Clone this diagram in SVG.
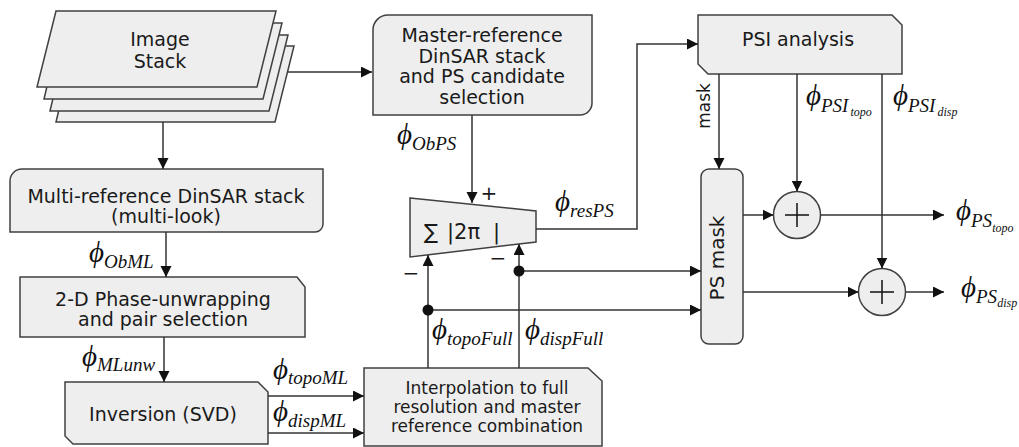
<svg xmlns="http://www.w3.org/2000/svg" width="1019" height="447" viewBox="0 0 1019 447">
<style>
.box{fill:#eeeeee;stroke:#404040;stroke-width:1.5}
.ln{fill:none;stroke:#333333;stroke-width:1.5}
.t{font-family:"DejaVu Sans",Verdana,sans-serif;font-size:19px;fill:#1a1a1a;text-anchor:middle}
.phi{font-family:"Liberation Serif","DejaVu Serif",serif;font-style:italic;font-size:29px;fill:#111}
.sub{font-size:19px}
.ss{font-size:12px}
</style>
<defs>
<marker id="ah" markerUnits="userSpaceOnUse" markerWidth="12" markerHeight="12" refX="11" refY="5.5" orient="auto">
<path d="M0,0 L11,5.5 L0,11 Z" fill="#111"/>
</marker>
</defs>
<rect width="1019" height="447" fill="#ffffff"/>

<g id="image-stack">
<polygon class="box" points="74,46 294,46 275,122 56,122"/>
<polygon class="box" points="68,35 288,35 269,111 50,111"/>
<polygon class="box" points="62,23 282,23 263,99 44,99"/>
<polygon class="box" points="56,11 276,11 257,87 37,87"/>
<text class="t" x="160" y="46">Image</text>
<text class="t" x="160" y="68">Stack</text>
</g>

<g id="master-ref">
<path class="box" d="M373,30 A15,15 0 0 1 388,15 H592 V103 A12,12 0 0 1 580,115 H373 Z"/>
<text class="t" x="482" y="42">Master-reference</text>
<text class="t" x="482" y="63">DinSAR stack</text>
<text class="t" x="482" y="83">and PS candidate</text>
<text class="t" x="482" y="104">selection</text>
</g>

<g id="psi-analysis">
<path class="box" d="M698,15 H892 L902,25 V74 H708 L698,64 Z"/>
<text class="t" x="798" y="46">PSI analysis</text>
</g>

<g id="multi-ref">
<path class="box" d="M10,181 A12,12 0 0 1 22,169 H323 V224 A8,8 0 0 1 315,232 H10 Z"/>
<text class="t" x="166" y="203">Multi-reference DinSAR stack</text>
<text class="t" x="166" y="223">(multi-look)</text>
</g>

<g id="unwrap">
<path class="box" d="M20,277 H297 L305,287 V337 H20 Z"/>
<text class="t" x="163" y="306">2-D Phase-unwrapping</text>
<text class="t" x="163" y="326">and pair selection</text>
</g>

<g id="inversion">
<path class="box" d="M65,382 H258 L268,392 V444 H73 L65,436 Z"/>
<text class="t" x="163" y="421">Inversion (SVD)</text>
</g>

<g id="interp">
<path class="box" d="M364,368 H588 L602,381 V446 H364 Z"/>
<text class="t" x="487" y="394" style="font-size:17px">Interpolation to full</text>
<text class="t" x="487" y="413" style="font-size:17px">resolution and master</text>
<text class="t" x="487" y="432" style="font-size:17px">reference combination</text>
</g>

<g id="sum">
<polygon class="box" points="410,198 536,211 536,242 410,257"/>
<text class="t" x="424" y="239" style="text-anchor:start;font-size:21px">∑<tspan x="447">|2π</tspan><tspan x="493">|</tspan></text>
<text class="t" x="489" y="200" style="font-size:20px">+</text>
<text class="t" x="411" y="280" style="font-size:20px">−</text>
<text class="t" x="498" y="265" style="font-size:20px">−</text>
</g>

<g id="ps-mask">
<rect class="box" x="701" y="169" width="42" height="175" rx="8"/>
<text class="t" transform="translate(724,258) rotate(-90)" x="0" y="0" style="font-size:20px">PS mask</text>
</g>

<g id="plus-topo">
<circle class="box" cx="797" cy="215" r="23.5"/>
<path class="ln" d="M785,215 H809 M797,203 V227" style="stroke:#111"/>
</g>

<g id="plus-disp">
<circle class="box" cx="882" cy="292" r="23.5"/>
<path class="ln" d="M870,292 H894 M882,280 V304" style="stroke:#111"/>
</g>

<g id="connectors">
<path class="ln" d="M288,72 H372" marker-end="url(#ah)"/>
<path class="ln" d="M163,122 V169" marker-end="url(#ah)"/>
<path class="ln" d="M166,232 V277" marker-end="url(#ah)"/>
<path class="ln" d="M164,337 V382" marker-end="url(#ah)"/>
<path class="ln" d="M268,396 H364" marker-end="url(#ah)"/>
<path class="ln" d="M268,433 H364" marker-end="url(#ah)"/>
<path class="ln" d="M472,115 V203" marker-end="url(#ah)"/>
<path class="ln" d="M428,368 V255" marker-end="url(#ah)"/>
<path class="ln" d="M519,368 V244" marker-end="url(#ah)"/>
<path class="ln" d="M428,310 H701" marker-end="url(#ah)"/>
<path class="ln" d="M519,271 H701" marker-end="url(#ah)"/>
<circle cx="428" cy="310" r="5.5" fill="#111"/>
<circle cx="519" cy="271" r="5.5" fill="#111"/>
<path class="ln" d="M536,229 H637 V44 H698" marker-end="url(#ah)"/>
<path class="ln" d="M719,74 V169" marker-end="url(#ah)"/>
<path class="ln" d="M797,74 V191.5" marker-end="url(#ah)"/>
<path class="ln" d="M882,74 V268.5" marker-end="url(#ah)"/>
<path class="ln" d="M743,215 H773.5" marker-end="url(#ah)"/>
<path class="ln" d="M743,292 H858.5" marker-end="url(#ah)"/>
<path class="ln" d="M820.5,215 H944" marker-end="url(#ah)"/>
<path class="ln" d="M905.5,292 H944" marker-end="url(#ah)"/>
<text class="t" transform="translate(710,106) rotate(-90)" style="font-size:17px">mask</text>
</g>

<g id="labels">
<text class="phi" x="397" y="144">ϕ<tspan class="sub" dy="6">ObPS</tspan></text>
<text class="phi" x="555" y="211">ϕ<tspan class="sub" dy="6">resPS</tspan></text>
<text class="phi" x="89" y="262">ϕ<tspan class="sub" dy="6">ObML</tspan></text>
<text class="phi" x="82" y="366">ϕ<tspan class="sub" dy="5">MLunw</tspan></text>
<text class="phi" x="273" y="379">ϕ<tspan class="sub" dy="5">topoML</tspan></text>
<text class="phi" x="273" y="421">ϕ<tspan class="sub" dy="6">dispML</tspan></text>
<text class="phi" x="432" y="339">ϕ<tspan class="sub" dy="6">topoFull</tspan></text>
<text class="phi" x="525" y="339">ϕ<tspan class="sub" dy="6">dispFull</tspan></text>
<text class="phi" x="806" y="105">ϕ<tspan class="sub" dy="7">PSI</tspan><tspan class="ss" dx="2" dy="4">topo</tspan></text>
<text class="phi" x="893" y="105">ϕ<tspan class="sub" dy="7">PSI</tspan><tspan class="ss" dx="2" dy="4">disp</tspan></text>
<text class="phi" x="956" y="220">ϕ<tspan class="sub" dy="7">PS</tspan><tspan class="ss" dy="5">topo</tspan></text>
<text class="phi" x="961" y="297">ϕ<tspan class="sub" dy="6">PS</tspan><tspan class="ss" dy="4">disp</tspan></text>
</g>
</svg>
